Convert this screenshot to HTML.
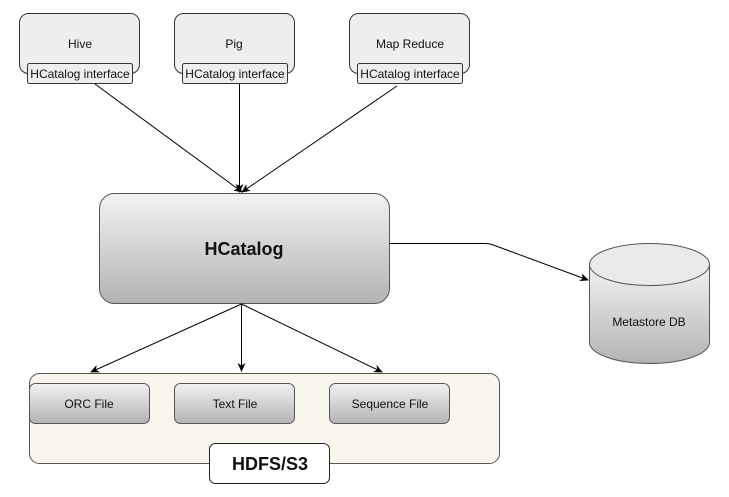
<!DOCTYPE html>
<html><head><meta charset="utf-8"><style>
html,body{margin:0;padding:0;background:#fff;}
svg{display:block;font-family:"Liberation Sans",Arial,sans-serif;}
</style></head><body>
<svg width="729" height="497" viewBox="0 0 729 497" xmlns="http://www.w3.org/2000/svg">
<defs>
<linearGradient id="g" x1="0" y1="0" x2="0" y2="1">
<stop offset="0" stop-color="#f2f2f2"/><stop offset="1" stop-color="#b3b3b3"/>
</linearGradient>
<marker id="a" markerWidth="10" markerHeight="10" refX="8" refY="4" orient="auto" markerUnits="userSpaceOnUse">
<path d="M0,0 L9,4 L0,8 L2.5,4 Z" fill="#000"/>
</marker>
</defs>
<!-- top boxes -->
<g stroke="#333" stroke-width="1" fill="#eeeeee">
<rect x="19.5" y="13.5" width="120" height="60" rx="9"/>
<rect x="174.5" y="13.5" width="120" height="60" rx="9"/>
<rect x="349.5" y="13.5" width="120" height="60" rx="9"/>
<rect x="27.5" y="63.5" width="105" height="20" rx="2"/>
<rect x="182.5" y="63.5" width="105" height="20" rx="2"/>
<rect x="357.5" y="63.5" width="105" height="20" rx="2"/>
</g>
<g font-size="12" fill="#111" text-anchor="middle">
<text x="80" y="48">Hive</text>
<text x="234" y="48">Pig</text>
<text x="410" y="48">Map Reduce</text>
<text x="80" y="78">HCatalog interface</text>
<text x="235" y="78">HCatalog interface</text>
<text x="410" y="78">HCatalog interface</text>
</g>
<!-- arrows to HCatalog -->
<g stroke="#000" stroke-width="1" fill="none" marker-end="url(#a)">
<line x1="95" y1="84" x2="242" y2="192"/>
<line x1="239.5" y1="84" x2="239.5" y2="192"/>
<line x1="397" y1="86" x2="242" y2="192"/>
</g>
<!-- HCatalog -->
<rect x="99.5" y="193.5" width="290" height="110" rx="15" fill="url(#g)" stroke="#555"/>
<text x="244" y="255" font-size="18" font-weight="bold" text-anchor="middle" fill="#111">HCatalog</text>
<!-- to metastore -->
<path d="M390,243.5 L485,243.5 Q490,243.5 496,246 L588,280" stroke="#000" fill="none" marker-end="url(#a)"/>
<!-- cylinder -->
<path d="M589.5,264.5 L589.5,342.5 A60,21 0 0 0 709.5,342.5 L709.5,264.5" fill="url(#g)" stroke="#555"/>
<ellipse cx="649.5" cy="264.5" rx="60" ry="21" fill="#eaeaea" stroke="#555"/>
<text x="649" y="326" font-size="12" text-anchor="middle" fill="#111">Metastore DB</text>
<!-- container -->
<rect x="29.5" y="373.5" width="470" height="90" rx="10" fill="#f9f7ed" stroke="#555"/>
<g stroke="#000" stroke-width="1" fill="none" marker-end="url(#a)">
<line x1="241.5" y1="304" x2="91" y2="372"/>
<line x1="241.5" y1="304" x2="241.5" y2="371"/>
<line x1="241.5" y1="304" x2="382" y2="372"/>
</g>
<g fill="url(#g)" stroke="#555">
<rect x="29.5" y="383.5" width="120" height="40" rx="6"/>
<rect x="174.5" y="383.5" width="120" height="40" rx="6"/>
<rect x="329.5" y="383.5" width="120" height="40" rx="6"/>
</g>
<g font-size="12" fill="#111" text-anchor="middle">
<text x="89" y="408">ORC File</text>
<text x="235" y="408">Text File</text>
<text x="390" y="408">Sequence File</text>
</g>
<rect x="209.5" y="443.5" width="120" height="40" rx="6" fill="#fff" stroke="#222"/>
<text x="270" y="470" font-size="18" font-weight="bold" text-anchor="middle" fill="#111">HDFS/S3</text>
</svg>
</body></html>
